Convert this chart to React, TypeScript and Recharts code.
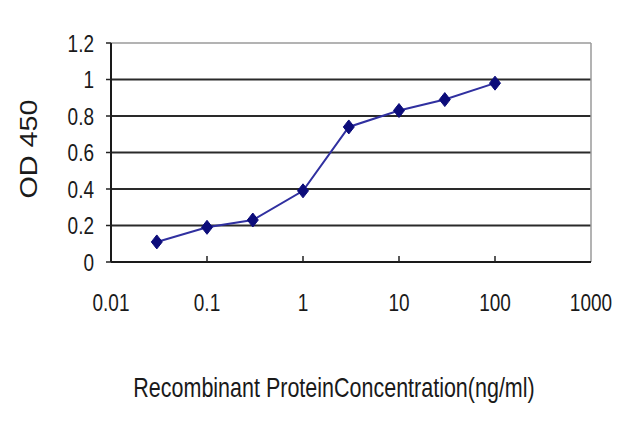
import React from 'react';
import {
  LineChart, Line, XAxis, YAxis, CartesianGrid, ReferenceLine
} from 'recharts';

// --- Data ---
const CONCENTRATIONS = [0.03, 0.1, 0.3, 1, 3, 10, 30, 100];
const OD_VALUES = [0.11, 0.19, 0.23, 0.39, 0.74, 0.83, 0.89, 0.98];
const X_TICKS = [0.01, 0.1, 1, 10, 100, 1000];
const Y_TICKS = [0, 0.2, 0.4, 0.6, 0.8, 1, 1.2];
const GRID_VALUES = [0.2, 0.4, 0.6, 0.8, 1];

const data = CONCENTRATIONS.map((c, i) => ({ conc: c, od: OD_VALUES[i] }));

const FONT = 'Arial, "Liberation Sans", sans-serif';
const TEXT = '#1a1a1a';
// the source image is stretched vertically, so the text is too
const STRETCH = 1.25;

// x ticks: label below, small tick mark pointing up into the plot
const XTick = ({ x, y, payload, index }: any) => (
  <g>
    {index > 0 && index < X_TICKS.length - 1 && (
      <line x1={x} x2={x} y1={y} y2={y - 6} stroke="#222" strokeWidth={1.5} />
    )}
    <text
      transform={`translate(${x},${y + 48.5}) scale(1,${STRETCH})`}
      textAnchor="middle" fontSize={19} fill={TEXT} fontFamily={FONT}
    >
      {payload.value}
    </text>
  </g>
);

// y ticks: short stub left of the axis, label right-aligned
const YTick = ({ x, y, payload }: any) => (
  <g>
    <line x1={x} x2={x - 5} y1={y} y2={y} stroke="#222" strokeWidth={1.5} />
    <text
      transform={`translate(${x - 17},${y + 8.5}) scale(1,${STRETCH})`}
      textAnchor="end" fontSize={19} fill={TEXT} fontFamily={FONT}
    >
      {payload.value}
    </text>
  </g>
);

const XTitle = ({ viewBox }: any) => (
  <text
    transform={`translate(${viewBox.x + viewBox.width / 2 - 17},${397}) scale(1,${STRETCH})`}
    textAnchor="middle" fontSize={21.5} fill={TEXT} fontFamily={FONT}
  >
    Recombinant ProteinConcentration(ng/ml)
  </text>
);

const YTitle = () => (
  <text
    transform={`translate(37,149) rotate(-90) scale(${STRETCH},1)`}
    textAnchor="middle" fontSize={23} fill={TEXT} fontFamily={FONT}
  >
    OD 450
  </text>
);

const Diamond = ({ cx, cy }: any) => {
  if (cx == null || cy == null) return null;
  return (
    <path
      d={`M${cx},${cy - 7} L${cx + 5.5},${cy} L${cx},${cy + 7} L${cx - 5.5},${cy} Z`}
      fill="#0c0c7a"
      stroke="#0c0c7a"
    />
  );
};

export default function App() {
  return (
    <div style={{ position: 'absolute', left: 0, top: 0, width: 640, height: 427, background: '#fff' }}>
      <LineChart
        width={640}
        height={427}
        data={data}
        margin={{ top: 43, right: 49, bottom: 25, left: 51 }}
      >
        <CartesianGrid
          vertical={false}
          horizontalValues={GRID_VALUES}
          stroke="#2a2a2a"
          strokeWidth={2}
        />
        <ReferenceLine y={1.2} stroke="#9a9a9a" strokeWidth={1.5} />
        <ReferenceLine x={1000} stroke="#9a9a9a" strokeWidth={1.5} />
        <XAxis
          dataKey="conc"
          type="number"
          scale="log"
          domain={[0.01, 1000]}
          ticks={X_TICKS}
          allowDataOverflow
          height={140}
          tickSize={0}
          tickMargin={0}
          tickLine={false}
          axisLine={{ stroke: '#1a1a1a', strokeWidth: 2 }}
          tick={<XTick />}
          interval={0}
          label={<XTitle />}
        />
        <YAxis
          type="number"
          domain={[0, 1.2]}
          ticks={Y_TICKS}
          width={60}
          tickSize={0}
          tickMargin={0}
          tickLine={false}
          axisLine={{ stroke: '#1a1a1a', strokeWidth: 2 }}
          tick={<YTick />}
          interval={0}
          label={<YTitle />}
        />
        <Line
          type="linear"
          dataKey="od"
          stroke="#3030a0"
          strokeWidth={2}
          dot={<Diamond />}
          activeDot={false}
          isAnimationActive={false}
        />
      </LineChart>
    </div>
  );
}
